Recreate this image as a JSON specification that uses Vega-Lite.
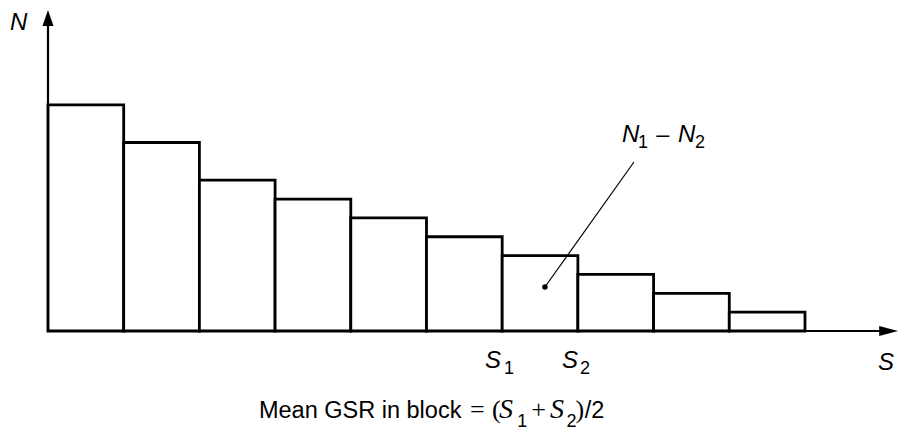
{
  "$schema": "https://vega.github.io/schema/vega-lite/v6.json",
  "width": 899,
  "height": 430,
  "padding": 0,
  "autosize": {"type": "none"},
  "background": "white",
  "config": {"view": {"stroke": null}},
  "datasets": {
    "bins": [
      {"x": 0, "x2": 1, "y": 12},
      {"x": 1, "x2": 2, "y": 10},
      {"x": 2, "x2": 3, "y": 8},
      {"x": 3, "x2": 4, "y": 7},
      {"x": 4, "x2": 5, "y": 6},
      {"x": 5, "x2": 6, "y": 5},
      {"x": 6, "x2": 7, "y": 4},
      {"x": 7, "x2": 8, "y": 3},
      {"x": 8, "x2": 9, "y": 2},
      {"x": 9, "x2": 10, "y": 1}
    ],
    "axes": [
      {"part": "y", "x": 0, "x2": 0, "y": 0, "y2": 16.4},
      {"part": "x", "x": 0, "x2": 11.0, "y": 0, "y2": 0}
    ],
    "headX": [
      {"x": 10.98, "y": -0.265, "y2": 0.265},
      {"x": 11.23, "y": 0, "y2": 0}
    ],
    "headY": [
      {"y": 16.18, "x": -0.073, "x2": 0.073},
      {"y": 17.03, "x": 0, "x2": 0}
    ],
    "pointer": [
      {"x": 6.565, "y": 2.334, "x2": 7.741, "y2": 8.966}
    ],
    "labels": [
      {"role": "it", "text": "N", "x": -0.502, "y": 15.97},
      {"role": "it", "text": "S", "x": 10.964, "y": -2.069},
      {"role": "it", "text": "S", "x": 5.773, "y": -1.963},
      {"role": "it", "text": "S", "x": 6.79, "y": -1.963},
      {"role": "it", "text": "N", "x": 7.583, "y": 10.027},
      {"role": "it", "text": "N", "x": 8.322, "y": 10.027},
      {"role": "sub", "text": "1", "x": 6.024, "y": -2.281},
      {"role": "sub", "text": "2", "x": 7.028, "y": -2.281},
      {"role": "sub", "text": "1", "x": 7.794, "y": 9.708},
      {"role": "sub", "text": "2", "x": 8.547, "y": 9.708},
      {"role": "sub", "text": "1", "x": 6.2, "y": -5.07},
      {"role": "sub", "text": "2", "x": 6.85, "y": -5.07},
      {"role": "sans", "text": "–", "x": 8.035, "y": 10.027},
      {"role": "sans", "text": "Mean GSR in block", "x": 2.787, "y": -4.615},
      {"role": "sans", "text": "/2", "x": 7.09, "y": -4.615},
      {"role": "serif", "text": "=", "x": 5.575, "y": -4.615},
      {"role": "serif", "text": "(", "x": 5.865, "y": -4.615},
      {"role": "serif", "text": "+", "x": 6.385, "y": -4.615},
      {"role": "serif", "text": ")", "x": 6.97, "y": -4.615},
      {"role": "serifit", "text": "S", "x": 5.958, "y": -4.615},
      {"role": "serifit", "text": "S", "x": 6.63, "y": -4.615}
    ]
  },
  "encoding": {
    "x": {"field": "x", "type": "quantitative", "scale": {"domain": [-0.634, 11.242], "nice": false, "zero": false}, "axis": null},
    "y": {"field": "y", "type": "quantitative", "scale": {"domain": [-5.252, 17.56], "nice": false, "zero": false}, "axis": null}
  },
  "layer": [
    {
      "data": {"name": "bins"},
      "mark": {"type": "rect", "fill": "white", "stroke": "black", "strokeWidth": 2.8},
      "encoding": {
        "x2": {"field": "x2"},
        "y2": {"datum": 0}
      }
    },
    {
      "data": {"name": "axes"},
      "mark": {"type": "rule", "stroke": "black", "strokeWidth": 2.2},
      "encoding": {
        "x2": {"field": "x2"},
        "y2": {"field": "y2"}
      }
    },
    {
      "data": {"name": "headX"},
      "mark": {"type": "area", "color": "black", "opacity": 1, "orient": "vertical"},
      "encoding": {
        "y2": {"field": "y2"}
      }
    },
    {
      "data": {"name": "headY"},
      "mark": {"type": "area", "color": "black", "opacity": 1, "orient": "horizontal"},
      "encoding": {
        "x2": {"field": "x2"}
      }
    },
    {
      "data": {"name": "pointer"},
      "mark": {"type": "rule", "stroke": "black", "strokeWidth": 1.2},
      "encoding": {
        "x2": {"field": "x2"},
        "y2": {"field": "y2"}
      }
    },
    {
      "data": {"name": "pointer"},
      "mark": {"type": "point", "shape": "circle", "size": 30, "filled": true, "fill": "black", "opacity": 1},
      "encoding": {}
    },
    {
      "data": {"name": "labels"},
      "transform": [{"filter": "datum.role === 'it'"}],
      "mark": {"type": "text", "align": "left", "baseline": "alphabetic", "font": "Liberation Sans", "fontStyle": "italic", "fontSize": 24, "fill": "black"},
      "encoding": {"text": {"field": "text"}}
    },
    {
      "data": {"name": "labels"},
      "transform": [{"filter": "datum.role === 'sub'"}],
      "mark": {"type": "text", "align": "left", "baseline": "alphabetic", "font": "Liberation Sans", "fontSize": 18, "fill": "black"},
      "encoding": {"text": {"field": "text"}}
    },
    {
      "data": {"name": "labels"},
      "transform": [{"filter": "datum.role === 'sans'"}],
      "mark": {"type": "text", "align": "left", "baseline": "alphabetic", "font": "Liberation Sans", "fontSize": 23.5, "fill": "black"},
      "encoding": {"text": {"field": "text"}}
    },
    {
      "data": {"name": "labels"},
      "transform": [{"filter": "datum.role === 'serif'"}],
      "mark": {"type": "text", "align": "left", "baseline": "alphabetic", "font": "Liberation Serif", "fontSize": 26, "fill": "black"},
      "encoding": {"text": {"field": "text"}}
    },
    {
      "data": {"name": "labels"},
      "transform": [{"filter": "datum.role === 'serifit'"}],
      "mark": {"type": "text", "align": "left", "baseline": "alphabetic", "font": "Liberation Serif", "fontStyle": "italic", "fontSize": 28, "fill": "black"},
      "encoding": {"text": {"field": "text"}}
    }
  ]
}
